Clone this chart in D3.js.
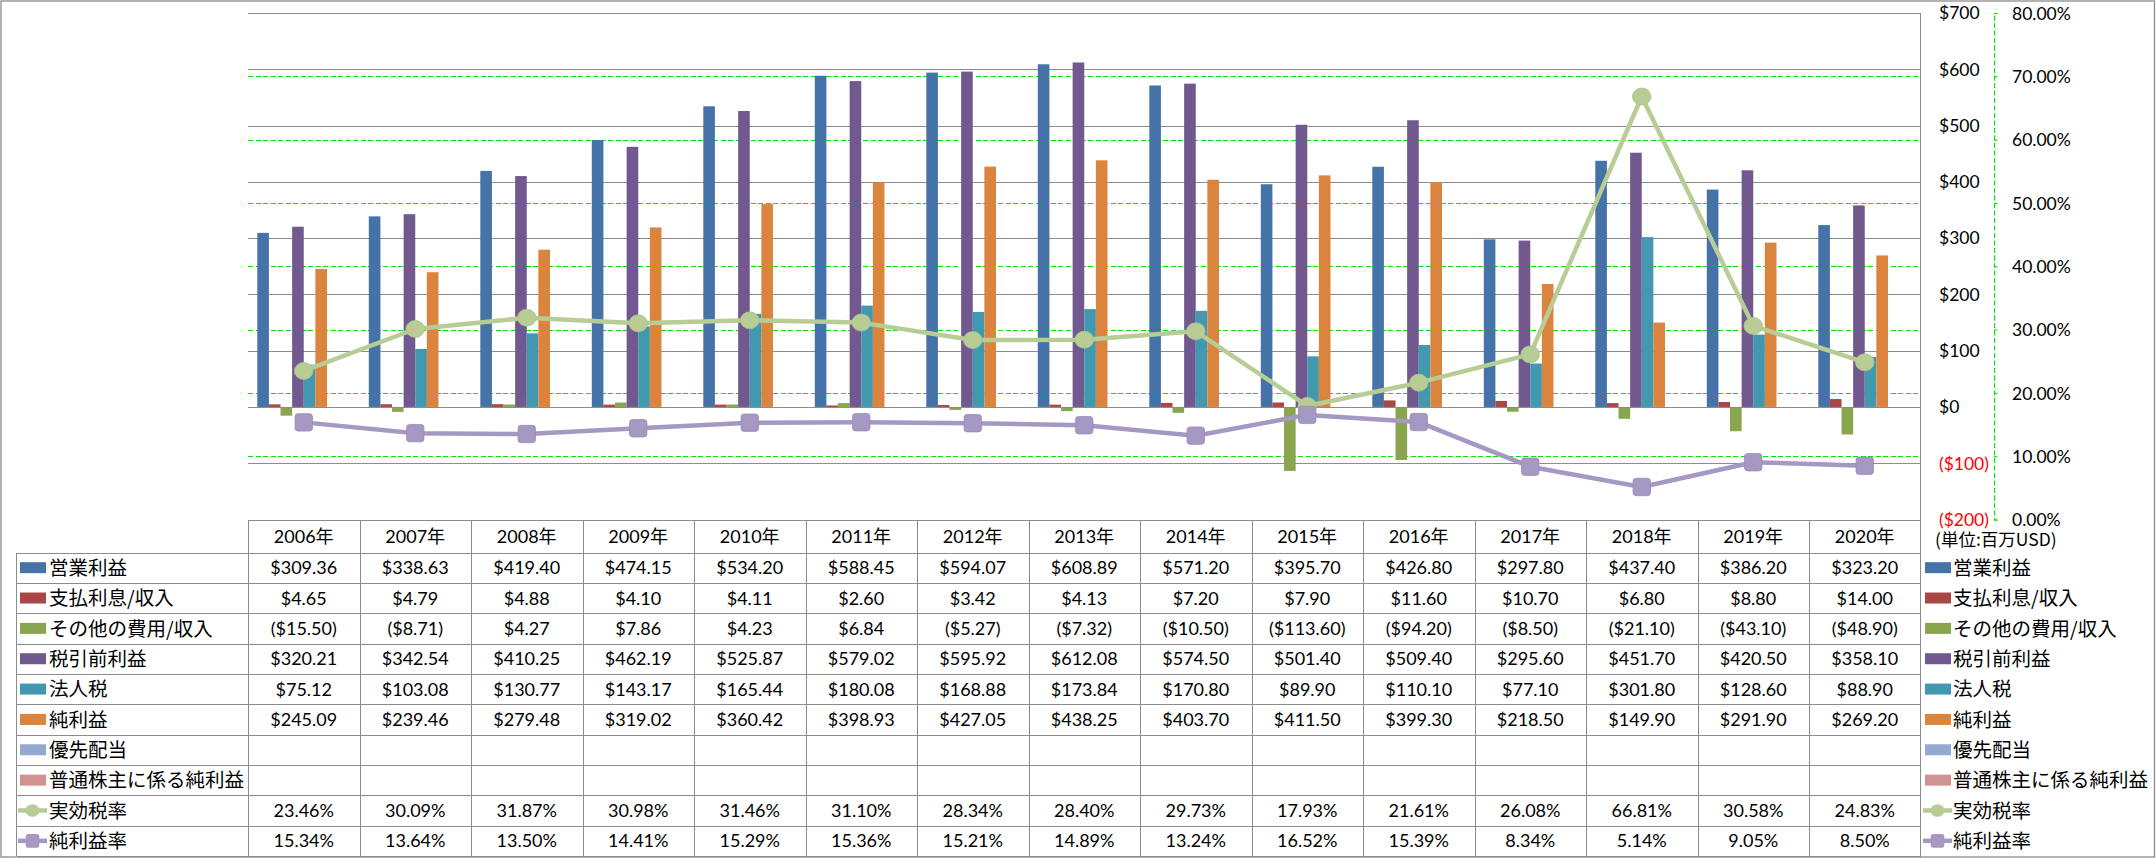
<!DOCTYPE html>
<html><head><meta charset="utf-8">
<script src="https://cdn.jsdelivr.net/npm/d3@7/dist/d3.min.js"></script>
<style>html,body{margin:0;padding:0;background:#fff;}svg{display:block;}</style>
</head><body>
<svg id="chart" width="2156" height="858"></svg>
<script>
// ---------- data ----------
const years = ["2006年","2007年","2008年","2009年","2010年","2011年","2012年","2013年","2014年","2015年","2016年","2017年","2018年","2019年","2020年"];
const operatingIncome = [309.36,338.63,419.40,474.15,534.20,588.45,594.07,608.89,571.20,395.70,426.80,297.80,437.40,386.20,323.20];
const interestExpense = [4.65,4.79,4.88,4.10,4.11,2.60,3.42,4.13,7.20,7.90,11.60,10.70,6.80,8.80,14.00];
const otherExpense = [-15.50,-8.71,4.27,7.86,4.23,6.84,-5.27,-7.32,-10.50,-113.60,-94.20,-8.50,-21.10,-43.10,-48.90];
const pretaxIncome = [320.21,342.54,410.25,462.19,525.87,579.02,595.92,612.08,574.50,501.40,509.40,295.60,451.70,420.50,358.10];
const incomeTax = [75.12,103.08,130.77,143.17,165.44,180.08,168.88,173.84,170.80,89.90,110.10,77.10,301.80,128.60,88.90];
const netIncome = [245.09,239.46,279.48,319.02,360.42,398.93,427.05,438.25,403.70,411.50,399.30,218.50,149.90,291.90,269.20];
const preferredDividends = [null,null,null,null,null,null,null,null,null,null,null,null,null,null,null];
const netIncomeCommon = [null,null,null,null,null,null,null,null,null,null,null,null,null,null,null];
const effectiveTaxRate = [23.46,30.09,31.87,30.98,31.46,31.10,28.34,28.40,29.73,17.93,21.61,26.08,66.81,30.58,24.83];
const netMargin = [15.34,13.64,13.50,14.41,15.29,15.36,15.21,14.89,13.24,16.52,15.39,8.34,5.14,9.05,8.50];
const leftTicks = [-200,-100,0,100,200,300,400,500,600,700];
const rightTicks = [0,0.1,0.2,0.3,0.4,0.5,0.6,0.7,0.8];
const unitLabel = "(単位:百万USD)";

const barSeries = [
  {name:"営業利益", values: operatingIncome, color:"#4572a7"},
  {name:"支払利息/収入", values: interestExpense, color:"#aa4643"},
  {name:"その他の費用/収入", values: otherExpense, color:"#89a54e"},
  {name:"税引前利益", values: pretaxIncome, color:"#71588f"},
  {name:"法人税", values: incomeTax, color:"#4198af"},
  {name:"純利益", values: netIncome, color:"#db843d"},
  {name:"優先配当", values: preferredDividends, color:"#93a9cf"},
  {name:"普通株主に係る純利益", values: netIncomeCommon, color:"#d19392"}
];
const lineSeries = [
  {name:"実効税率", values: effectiveTaxRate, color:"#b7cd95", marker:"circle"},
  {name:"純利益率", values: netMargin, color:"#a598c2", marker:"square"}
];

// ---------- layout ----------
const svg = d3.select("#chart");
const NUM_FONT = "Lato, 'Noto Sans CJK JP', sans-serif";
const CJK_FONT = "'Noto Sans CJK JP', sans-serif";
const plotL = 248, plotR = 1920.5, plotT = 13, plotB = 519.5;
const tableBottom = 856;
const headerBottom = 552.5;
const rowH = (tableBottom - headerBottom) / 10;
const labelColL = 16.5;
const lineGray = "#8c8c8c";
const dashGreen = "#00e600";

const x = d3.scaleBand().domain(years).range([plotL, plotR]).padding(0);
const xs = d3.scaleBand().domain(barSeries.map(s=>s.name)).range([0, x.bandwidth()]).paddingInner(0).paddingOuter(0.8);
const yL = d3.scaleLinear().domain([-200,700]).range([plotB, plotT]);
const yR = d3.scaleLinear().domain([0,0.8]).range([plotB, plotT]);
const snap = v => Math.round(v) + 0.5;

// outer border
svg.append("rect").attr("x",1).attr("y",1).attr("width",2153.5).attr("height",856)
  .attr("fill","none").attr("stroke","#8a8a8a").attr("stroke-width",1.3);

// gray gridlines (primary axis)
svg.append("g").attr("shape-rendering","crispEdges").selectAll("line").data(leftTicks.filter(d=>d>-200)).join("line")
  .attr("x1",plotL).attr("x2",plotR).attr("y1",d=>snap(yL(d))).attr("y2",d=>snap(yL(d)))
  .attr("stroke",lineGray).attr("stroke-width",1.3);

// green dashed gridlines (secondary axis)
svg.append("g").attr("shape-rendering","crispEdges").selectAll("line").data(rightTicks.filter(d=>d>0 && d<0.8)).join("line")
  .attr("x1",plotL).attr("x2",plotR).attr("y1",d=>snap(yR(d))).attr("y2",d=>snap(yR(d)))
  .attr("stroke",dashGreen).attr("stroke-width",1).attr("stroke-dasharray","5,2.5");

// bars
const gBars = svg.append("g");
barSeries.forEach(s=>{
  gBars.append("g").selectAll("rect").data(s.values.map((v,i)=>({v,i})).filter(d=>d.v!=null)).join("rect")
    .attr("x",d=>x(years[d.i]) + xs(s.name))
    .attr("width",xs.bandwidth())
    .attr("y",d=>Math.min(yL(d.v), yL(0)))
    .attr("height",d=>Math.abs(yL(d.v)-yL(0)))
    .attr("fill",s.color);
});

// zero line on top of bars
svg.append("line").attr("shape-rendering","crispEdges").attr("x1",plotL).attr("x2",plotR)
  .attr("y1",snap(yL(0))).attr("y2",snap(yL(0)))
  .attr("stroke",lineGray).attr("stroke-width",1.3);

// lines
lineSeries.forEach(s=>{
  const pts = s.values.map((v,i)=>[x(years[i])+x.bandwidth()/2, yR(v/100)]);
  svg.append("path").datum(pts).attr("d",d3.line()).attr("fill","none")
    .attr("stroke",s.color).attr("stroke-width",4.5).attr("stroke-linejoin","round");
  const g = svg.append("g");
  if (s.marker==="circle") {
    g.selectAll("ellipse").data(pts).join("ellipse").attr("cx",d=>d[0]).attr("cy",d=>d[1])
      .attr("rx",9.3).attr("ry",8.5).attr("fill",s.color).attr("stroke","#adc489").attr("stroke-width",0.8);
  } else {
    g.selectAll("rect").data(pts).join("rect").attr("x",d=>d[0]-8.7).attr("y",d=>d[1]-8.7)
      .attr("width",17.4).attr("height",17.4).attr("rx",3).attr("fill",s.color)
      .attr("stroke","#9a8cb8").attr("stroke-width",0.8);
  }
});

// primary axis line (right side of plot, extends into table)
svg.append("line").attr("shape-rendering","crispEdges").attr("x1",plotR).attr("x2",plotR).attr("y1",plotT).attr("y2",tableBottom)
  .attr("stroke",lineGray).attr("stroke-width",1.3);

// primary axis labels
svg.append("g").selectAll("text").data(leftTicks).join("text")
  .attr("x",1939).attr("y",d=>yL(d)).attr("dy","0.36em")
  .attr("font-family",NUM_FONT).attr("font-size",17.5)
  .attr("fill",d=>d<0?"#ff0000":"#000")
  .text(d=>d<0?`($${-d})`:`$${d}`);

// secondary axis line (green dashed) and ticks
const axR = d3.axisRight(yR).tickValues(rightTicks).tickSize(3.5).tickFormat(d=>(d*100).toFixed(2)+"%");
const gR = svg.append("g").attr("transform","translate(1994,0)").call(axR);
gR.select(".domain").attr("stroke",dashGreen).attr("stroke-dasharray","5,2.5").attr("stroke-width",1.1);
gR.selectAll(".tick line").attr("stroke",dashGreen).attr("stroke-width",1.1);
gR.selectAll(".tick text").attr("x",18).attr("dy","0.36em").attr("font-family",NUM_FONT)
  .attr("font-size",17.5).attr("fill","#000");

// unit label
svg.append("text").attr("x",1935).attr("y",540).attr("dy","0.36em")
  .attr("font-family",CJK_FONT).attr("font-size",17.5).attr("fill","#000").text(unitLabel);

// ---------- data table ----------
const gT = svg.append("g");
const gLines = gT.append("g").attr("shape-rendering","crispEdges");
// horizontal lines
gLines.append("line").attr("x1",plotL).attr("x2",plotR).attr("y1",snap(plotB)).attr("y2",snap(plotB))
  .attr("stroke",lineGray).attr("stroke-width",1.3);
d3.range(11).forEach(i=>{
  const yy = snap(headerBottom + i*rowH);
  gLines.append("line").attr("x1",labelColL).attr("x2",plotR).attr("y1",yy).attr("y2",yy)
    .attr("stroke",lineGray).attr("stroke-width",1.3);
});
// vertical lines
gLines.append("line").attr("x1",labelColL).attr("x2",labelColL).attr("y1",headerBottom).attr("y2",tableBottom)
  .attr("stroke",lineGray).attr("stroke-width",1.3);
gLines.selectAll("line.col").data(years).join("line").attr("class","col")
  .attr("x1",d=>snap(x(d))).attr("x2",d=>snap(x(d))).attr("y1",plotB).attr("y2",tableBottom)
  .attr("stroke",lineGray).attr("stroke-width",1.3);

// header
gT.selectAll("text.hdr").data(years).join("text").attr("class","hdr")
  .attr("x",d=>x(d)+x.bandwidth()/2).attr("y",(plotB+headerBottom)/2+1).attr("dy","0.36em")
  .attr("text-anchor","middle").attr("font-family",NUM_FONT).attr("font-size",18).attr("fill","#000")
  .text(d=>d);

const fmtMoney = v => v==null ? "" : (v<0 ? `($${(-v).toFixed(2)})` : `$${v.toFixed(2)}`);
const fmtPct = v => v==null ? "" : v.toFixed(2)+"%";

const allRows = [
  ...barSeries.map(s=>({name:s.name, values:s.values, color:s.color, type:"bar", fmt:fmtMoney})),
  ...lineSeries.map(s=>({name:s.name, values:s.values, color:s.color, type:s.marker, fmt:fmtPct}))
];

allRows.forEach((r,ri)=>{
  const cy = headerBottom + ri*rowH + rowH/2;
  // cells
  gT.append("g").selectAll("text").data(r.values).join("text")
    .attr("x",(d,i)=>x(years[i])+x.bandwidth()/2).attr("y",cy).attr("dy","0.36em")
    .attr("text-anchor","middle").attr("font-family",NUM_FONT).attr("font-size",18).attr("fill","#000")
    .text(d=>r.fmt(d));
  // legend keys, left and right
  [[20,49],[1925,1953]].forEach(([kx,tx])=>{
    if (r.type==="bar") {
      gT.append("rect").attr("x",kx).attr("y",cy-5.5).attr("width",26).attr("height",11).attr("fill",r.color);
    } else {
      gT.append("line").attr("x1",kx-2).attr("x2",kx+27).attr("y1",cy).attr("y2",cy)
        .attr("stroke",r.color).attr("stroke-width",4.5);
      if (r.type==="circle") {
        gT.append("ellipse").attr("cx",kx+12.5).attr("cy",cy).attr("rx",7).attr("ry",6.3).attr("fill",r.color);
      } else {
        gT.append("rect").attr("x",kx+12.5-6.8).attr("y",cy-6.8).attr("width",13.6).attr("height",13.6)
          .attr("rx",2.5).attr("fill",r.color);
      }
    }
    gT.append("text").attr("x",tx).attr("y",cy).attr("dy","0.37em")
      .attr("font-family",CJK_FONT).attr("font-size",19.5).attr("fill","#000").text(r.name);
  });
});
</script>
</body></html>
